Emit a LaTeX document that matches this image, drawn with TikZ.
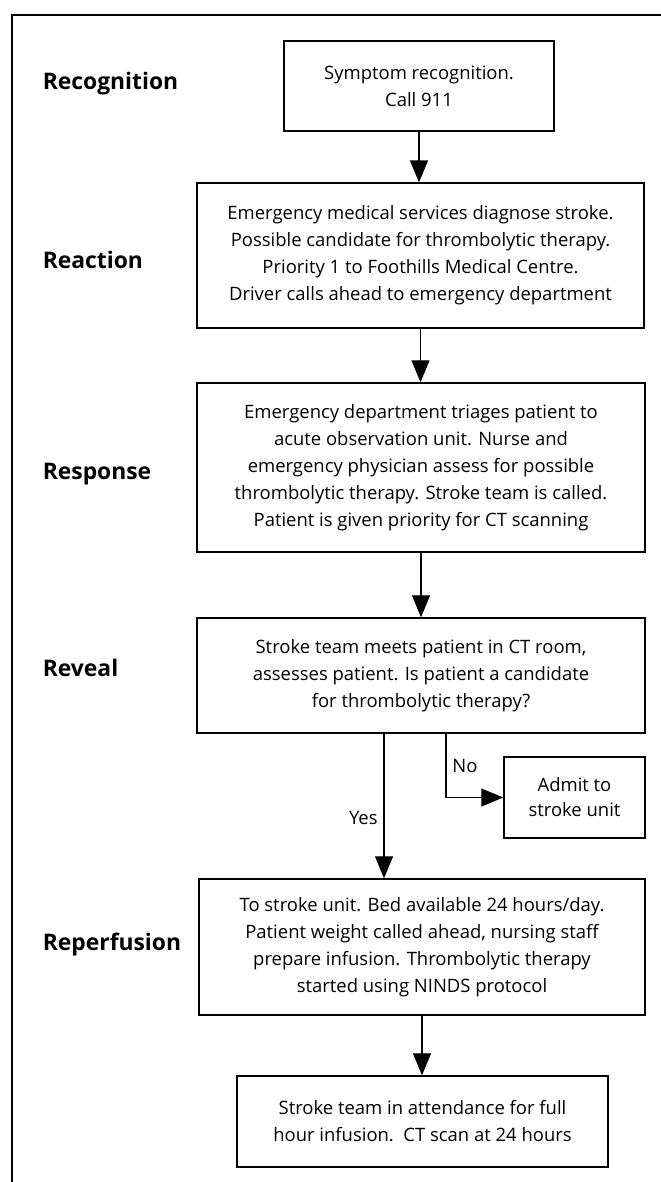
\documentclass[tikz,border=0pt]{standalone}
\usepackage{fontspec}
\setmainfont{Open Sans}
\usetikzlibrary{arrows.meta}

\begin{document}
\begin{tikzpicture}[
  box/.style={draw,line width=0.8pt,align=center,inner sep=0pt,
    font=\fontsize{10.5}{15.4}\selectfont},
  stage/.style={anchor=west,inner sep=0pt,font=\fontsize{13}{15}\selectfont\bfseries},
  arr/.style={line width=0.6pt,-{Triangle[length=0.44cm,width=0.36cm]}}]

\useasboundingbox (0,0) rectangle (13.22,-23.64);
\draw[line width=0.6pt] (13.22,-0.30) -- (0.24,-0.30) -- (0.24,-23.64);

% stages
\node[stage] (recog) at (0.85,-1.68) {Recognition};
\node[stage] (react) at (0.85,-5.20) {Reaction};
\node[stage] (respo) at (0.85,-9.48) {Response};
\node[stage] (revea) at (0.85,-13.36) {Reveal};
\node[stage] (reper) at (0.85,-18.88) {Reperfusion};

% boxes
\node[box,minimum width=5.40cm,minimum height=1.80cm] (symp) at (8.38,-1.72)
  {Symptom recognition.\\Call 911};
\node[box,minimum width=8.94cm,minimum height=2.90cm] (ems) at (8.41,-5.11)
  {Emergency medical services diagnose stroke.\\
   Possible candidate for thrombolytic therapy.\\
   Priority 1 to Foothills Medical Centre.\\
   Driver calls ahead to emergency department};
\node[box,minimum width=8.96cm,minimum height=3.38cm] (ed) at (8.42,-9.35)
  {Emergency department triages patient to\\
   acute observation unit. Nurse and\\
   emergency physician assess for possible\\
   thrombolytic therapy. Stroke team is called.\\
   Patient is given priority for CT scanning};
\node[box,minimum width=8.96cm,minimum height=2.30cm] (ct) at (8.42,-13.51)
  {Stroke team meets patient in CT room,\\
   assesses patient. Is patient a candidate\\
   for thrombolytic therapy?};
\node[box,font=\fontsize{10.5}{14.2}\selectfont,minimum width=2.82cm,minimum height=1.62cm] (admit) at (11.49,-15.95)
  {Admit to\\stroke unit};
\node[box,minimum width=8.92cm,minimum height=2.72cm] (unit) at (8.44,-18.94)
  {To stroke unit. Bed available 24 hours/day.\\
   Patient weight called ahead, nursing staff\\
   prepare infusion. Thrombolytic therapy\\
   started using NINDS protocol};
\node[box,minimum width=7.42cm,minimum height=1.82cm] (full) at (8.45,-22.43)
  {Stroke team in attendance for full\\
   hour infusion.\ \ CT scan at 24 hours};

% arrows
\draw[arr,line width=1.1pt] (symp.south) -- (symp.south |- ems.north);
\draw[arr] (ems.south) -- (ems.south |- ed.north);
\draw[arr] (ed.south) -- (ed.south |- ct.north);
\draw[arr] ([xshift=-0.74cm]ct.south) -- ([xshift=-0.74cm]ct.south |- unit.north)
  node[pos=0.58,left,font=\fontsize{10.5}{12}\selectfont] {Yes};
\draw[arr] ([xshift=0.50cm]ct.south) |- (admit.west)
  node[pos=0.25,right,font=\fontsize{10.5}{12}\selectfont] {No};
\draw[arr] (unit.south) -- (unit.south |- full.north);

\end{tikzpicture}
\end{document}
